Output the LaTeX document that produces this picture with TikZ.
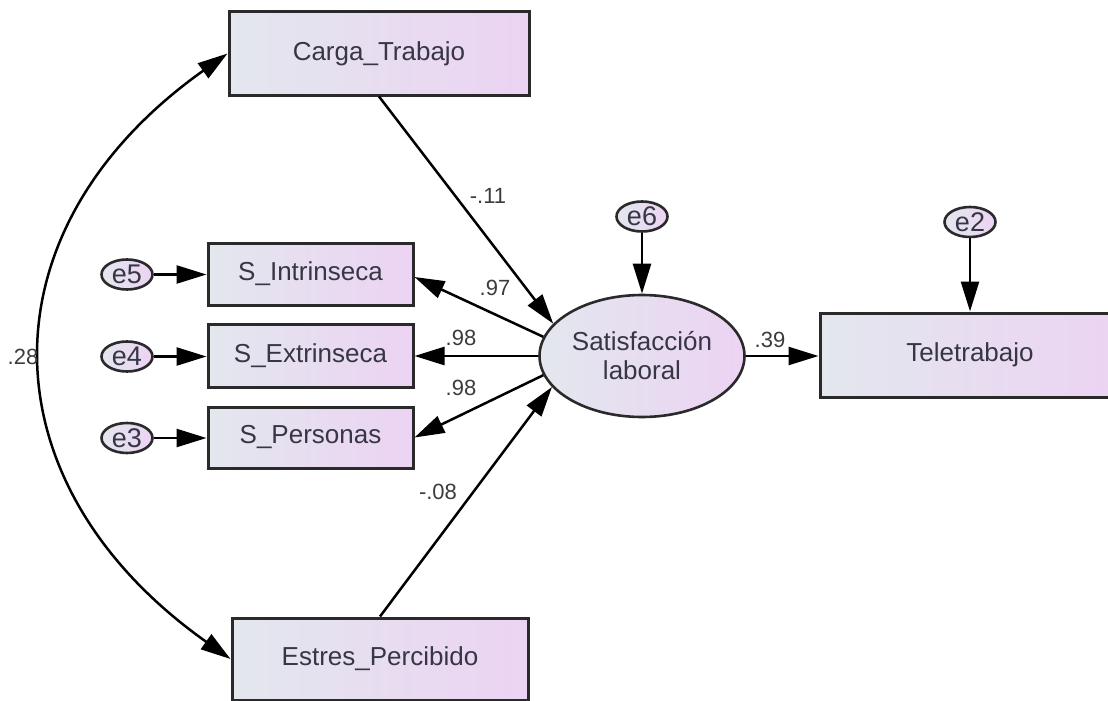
\documentclass[tikz,border=0pt]{standalone}
\usepackage{fontspec}
\setmainfont{Liberation Sans}
\usetikzlibrary{arrows.meta,shapes.geometric}
\definecolor{gl}{HTML}{E3E7EE}
\definecolor{gr}{HTML}{ECD3F3}
\definecolor{txt}{HTML}{363644}
\definecolor{bord}{HTML}{2A2A2A}
\definecolor{lblc}{HTML}{3C3C3C}
\begin{document}
\begin{tikzpicture}[x=1pt,y=-1pt,
  box/.style={rectangle, draw=bord, line width=3pt, left color=gl, right color=gr,
    inner sep=0pt, text=txt, font=\fontsize{26}{29}\selectfont},
  lat/.style={ellipse, draw=bord, line width=2.6pt, left color=gl, right color=gr,
    inner sep=0pt, text=txt, align=center, font=\fontsize{26}{29}\selectfont},
  err/.style={ellipse, draw=bord, line width=2.6pt, left color=gl, right color=gr,
    inner sep=0pt, minimum width=51pt, minimum height=30pt, text=txt,
    font=\fontsize{27}{28}\selectfont},
  pathar/.style={line width=2.5pt, draw=black, -{Triangle[length=30pt,width=18pt]}},
  lbl/.style={inner sep=0pt, text=lblc, font=\fontsize{22}{24}\selectfont}]
\useasboundingbox (0,0) rectangle (1108,701);
\clip (0,0) rectangle (1108,701);
\fill[white] (0,0) rectangle (1108,701);

% nodes
\node[box, minimum width=300pt, minimum height=83pt] (carga) at (379,53.5) {Carga\_Trabajo};
\node[box, minimum width=205pt, minimum height=62pt] (sint) at (310.5,274) {S\_Intrinseca};
\node[box, minimum width=205pt, minimum height=63pt] (sext) at (310.5,355.5) {S\_Extrinseca};
\node[box, minimum width=205pt, minimum height=61pt] (sper) at (310.5,437.5) {S\_Personas};
\node[box, minimum width=296pt, minimum height=82pt] (estres) at (380,659) {Estres\_Percibido};
\node[box, minimum width=300pt, minimum height=84pt] (tele) at (970,355) {Teletrabajo};
\node[lat, minimum width=205pt, minimum height=122pt] (sat) at (642,356) {Satisfacción\\laboral};
\node[err] (e6) at (642,216.5) {e6};
\node[err] (e2) at (970,222) {e2};
\node[err] (e5) at (127,274.5) {e5};
\node[err] (e4) at (127,356.5) {e4};
\node[err] (e3) at (127,438) {e3};

% connectors
\draw[pathar] (e6) -- (e6 |- sat.north);
\draw[pathar] (e2) -- (e2 |- tele.north);
\draw[pathar] (e5) -- (e5 -| sint.west);
\draw[pathar] (e4) -- (e4 -| sext.west);
\draw[pathar] (e3) -- (e3 -| sper.west);
\draw[pathar] (carga.south) -- (sat.160);
\draw[pathar] (estres.north) -- (sat.199);
\draw[pathar] (sat.169) -- ([yshift=-3pt]sint.east);
\draw[pathar] (sat.west) -- (sat.west -| sext.east);
\draw[pathar] (sat.191) -- (sper.east);
\draw[pathar] (sat.east) -- (sat.east -| tele.west);
\draw[line width=2.5pt, {Triangle[length=30pt,width=18pt]}-{Triangle[length=30pt,width=18pt]}]
  (carga.west) .. controls (-20,229) and (-18,483) .. (estres.west);

% labels
\node[lbl] (l1) at (488,196) {-.11};
\node[lbl] (l2) at (495,288) {.97};
\node[lbl] (l3) at (461,338) {.98};
\node[lbl] (l4) at (461,388) {.98};
\node[lbl] (l5) at (438,492) {-.08};
\node[lbl] (l6) at (770,340) {.39};
\node[lbl] (l7) at (23,357) {.28};
\end{tikzpicture}
\end{document}
